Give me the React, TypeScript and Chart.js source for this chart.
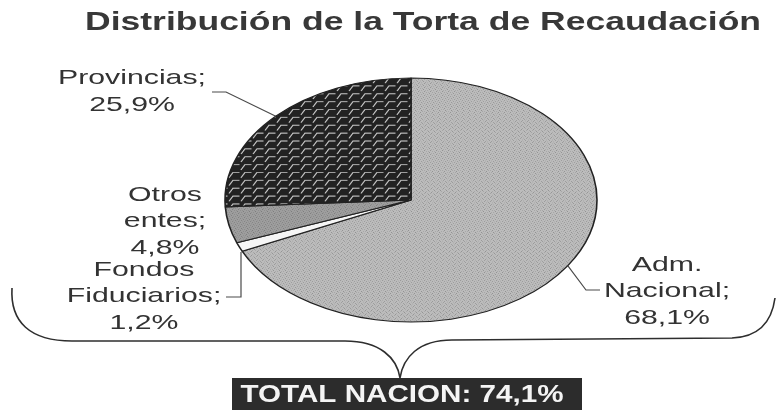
import { useEffect, useRef } from 'react';
import { Chart, registerables } from 'chart.js';

Chart.register(...registerables);

// ---- data ----
const categories = ['Adm. Nacional', 'Fondos Fiduciarios', 'Otros entes', 'Provincias'];
const shares = [68.1, 1.2, 4.8, 25.9];
const titleText = 'Distribución de la Torta de Recaudación';
const totalLabels = ['TOTAL NACION'];
const totalShares = [74.1];

// ---- presentation ----
const FONT = '"Liberation Sans", Arial, sans-serif';
const K = 122 / 186; // vertical squash of the pie (ellipse)
const TEXT = '#333333';
const LINE = '#4a4a4a';

// label placement (per category index): centre x, first line y, leader path (label side) -> edge
const labelLayout = [
  { cx: 667, y0: 265, lh: 26.5, leader: [[600, 290], [586, 290]] },
  { cx: 144, y0: 270, lh: 26.5, leader: [[226, 297], [241, 297], [241, 252]] },
  { cx: 165, y0: 195, lh: 26.5, leader: [] },
  { cx: 132, y0: 78, lh: 27, leader: [[212, 92], [226, 92]] },
];

const fmt = (v: number) => v.toFixed(1).replace('.', ',') + '%';

function makeStipple(base: string, dot: string): CanvasPattern | string {
  const c = document.createElement('canvas');
  c.width = 6; c.height = 6;
  const g = c.getContext('2d');
  if (!g) return base;
  g.fillStyle = base; g.fillRect(0, 0, 6, 6);
  g.fillStyle = dot;
  const pts = [[0, 0], [3, 1], [1, 3], [4, 4], [5, 2], [2, 5]];
  pts.forEach(([x, y]) => g.fillRect(x, y, 1, 1));
  return g.createPattern(c, 'repeat') || base;
}

function makeWeave(): CanvasPattern | string {
  const c = document.createElement('canvas');
  c.width = 12; c.height = 12;
  const g = c.getContext('2d');
  if (!g) return '#2a2a2a';
  g.fillStyle = '#222222'; g.fillRect(0, 0, 12, 12);
  g.strokeStyle = '#c8c8c8';
  g.lineWidth = 1.3;
  g.beginPath();
  g.moveTo(1, 10); g.lineTo(5, 2); g.lineTo(11.5, 2);
  g.stroke();
  return g.createPattern(c, 'repeat') || '#2a2a2a';
}

function stretchText(
  ctx: CanvasRenderingContext2D, text: string, x: number, y: number,
  font: string, sx: number, color: string,
) {
  ctx.save();
  ctx.font = font;
  ctx.fillStyle = color;
  ctx.textAlign = 'center';
  ctx.textBaseline = 'middle';
  ctx.translate(x, y);
  ctx.scale(sx, 1);
  ctx.fillText(text, 0, 0);
  ctx.restore();
}

function fitText(
  ctx: CanvasRenderingContext2D, text: string, x: number, y: number,
  font: string, width: number, color: string,
) {
  ctx.save();
  ctx.font = font;
  const w = ctx.measureText(text).width || 1;
  ctx.restore();
  stretchText(ctx, text, x, y, font, width / w, color);
}

const piePlugin = {
  id: 'ellipsePie',
  beforeDatasetsDraw(chart: any) {
    const a = chart.getDatasetMeta(0).data[0];
    const ctx = chart.ctx;
    ctx.save();
    ctx.translate(a.x, a.y);
    ctx.scale(1, K);
    ctx.translate(-a.x, -a.y);
  },
  afterDatasetsDraw(chart: any) {
    chart.ctx.restore();
  },
  afterDraw(chart: any) {
    const ctx: CanvasRenderingContext2D = chart.ctx;
    const arcs = chart.getDatasetMeta(0).data;

    // title
    fitText(ctx, titleText, 423, 23, `bold 25px ${FONT}`, 676, '#383838');

    // labels + leaders
    categories.forEach((cat, i) => {
      const lay = labelLayout[i];
      const words = cat.split(' ');
      const lines = words.map((w, j) => (j === words.length - 1 ? w + ';' : w));
      lines.push(fmt(shares[i]));
      lines.forEach((ln, j) => {
        stretchText(ctx, ln, lay.cx, lay.y0 + j * lay.lh, `21px ${FONT}`, 1.44, TEXT);
      });
      if (lay.leader.length) {
        const a = arcs[i];
        const mid = (a.startAngle + a.endAngle) / 2;
        const ex = a.x + a.outerRadius * Math.cos(mid);
        const ey = a.y + a.outerRadius * Math.sin(mid) * K;
        ctx.save();
        ctx.strokeStyle = LINE;
        ctx.lineWidth = 1.2;
        ctx.beginPath();
        lay.leader.forEach(([px, py], j) => (j === 0 ? ctx.moveTo(px, py) : ctx.lineTo(px, py)));
        if (i !== 1) ctx.lineTo(ex, ey);
        ctx.stroke();
        ctx.restore();
      }
    });

    // curly brace grouping the national share
    ctx.save();
    ctx.strokeStyle = '#2e2e2e';
    ctx.lineWidth = 1.6;
    ctx.beginPath();
    ctx.moveTo(12, 288);
    ctx.bezierCurveTo(10, 322, 30, 341, 72, 341);
    ctx.lineTo(345, 341);
    ctx.bezierCurveTo(380, 341, 397, 358, 400, 378);
    ctx.bezierCurveTo(403, 358, 418, 340, 452, 340);
    ctx.lineTo(732, 338);
    ctx.bezierCurveTo(760, 337, 772, 320, 775, 298);
    ctx.stroke();
    ctx.restore();

    // total box
    ctx.save();
    ctx.fillStyle = '#2c2c2c';
    ctx.fillRect(232, 378, 350, 32);
    ctx.restore();
    fitText(ctx, `${totalLabels[0]}: ${fmt(totalShares[0])}`, 402, 395, `bold 24px ${FONT}`, 323, '#f4f4f4');
  },
};

export default function App() {
  const ref = useRef<HTMLCanvasElement | null>(null);
  useEffect(() => {
    if (!ref.current) return;
    const fills = [
      makeStipple('#bcbcbc', '#939393'),
      '#f6f6f6',
      makeStipple('#9e9e9e', '#7e7e7e'),
      makeWeave(),
    ];
    const chart = new Chart(ref.current, {
      type: 'pie',
      data: {
        labels: categories,
        datasets: [{
          data: shares,
          backgroundColor: fills as any,
          borderColor: '#222222',
          borderWidth: 1.6,
          radius: 186,
        } as any],
      },
      options: {
        responsive: false,
        animation: false,
        events: [],
        layout: { padding: { left: 225, right: 179, top: 14, bottom: 24 } },
        plugins: {
          legend: { display: false },
          tooltip: { enabled: false },
          title: { display: false },
        },
      },
      plugins: [piePlugin],
    });
    return () => chart.destroy();
  }, []);
  return (
    <div style={{ position: 'fixed', left: 0, top: 0, width: 776, height: 410, background: '#fff' }}>
      <canvas ref={ref} width={776} height={410} style={{ display: 'block' }} />
    </div>
  );
}
